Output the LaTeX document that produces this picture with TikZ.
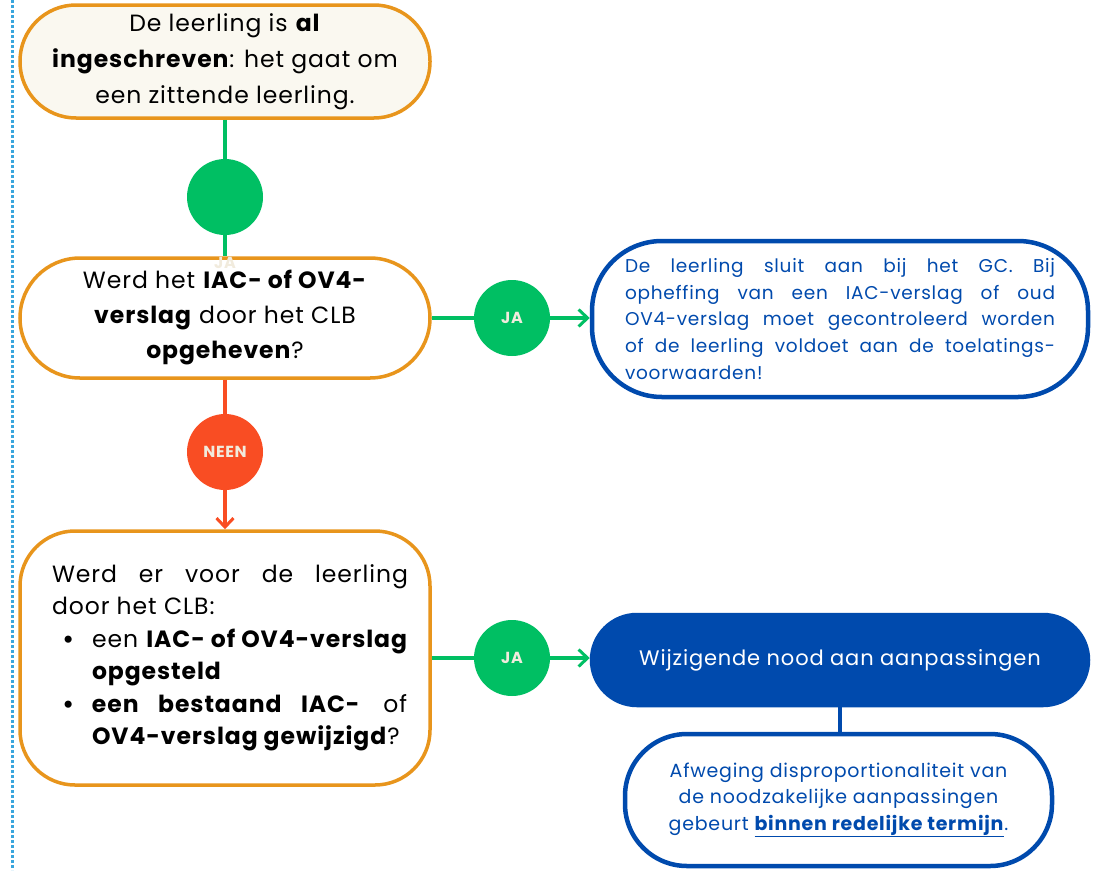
\documentclass[tikz,border=0pt]{standalone}
\usepackage{fontspec}
\setmainfont{Poppins}[LetterSpace=4]
\usetikzlibrary{arrows.meta}

\definecolor{vakoranje}{HTML}{E8951C}
\definecolor{vakcreme}{HTML}{FAF8F0}
\definecolor{vakgroen}{HTML}{00BF63}
\definecolor{vakrood}{HTML}{F94D23}
\definecolor{vakblauw}{HTML}{004AAD}
\definecolor{vaklijn}{HTML}{3AA6DD}
\definecolor{vakbleek}{HTML}{F1EBDD}

\begin{document}
\begin{tikzpicture}[x=1pt,y=-1pt,
    vraag/.style={draw=vakoranje,line width=3.5pt,fill=white,inner sep=0pt},
    uitkomst/.style={draw=vakblauw,line width=4.5pt,fill=white,inner sep=0pt,text=vakblauw},
    keuze/.style={circle,minimum size=76pt,inner sep=0pt,text=vakbleek,font=\fontsize{16}{16}\selectfont\bfseries},
    verbinding/.style={line width=3.5pt},
    >={Straight Barb[length=9pt,width=17pt,line width=3pt]}]
  \useasboundingbox (0,0) rectangle (1102,870);
  \draw[vaklijn,line width=3pt,dash pattern=on 2.5pt off 2.5pt] (12,0) -- (12,870);

  % vragen links
  \node[vraag,fill=vakcreme,rounded corners=56pt,minimum width=410pt,minimum height=113pt,
    align=center,font=\fontsize{23.5}{36}\selectfont] (ingeschreven) at (225,61.5)
    {De leerling is \textbf{al}\\\textbf{ingeschreven}: het gaat om\\een zittende leerling.};
  \node[vraag,rounded corners=60pt,minimum width=410pt,minimum height=120pt,
    align=center,font=\fontsize{23.5}{35}\selectfont] (opgeheven) at (225,318)
    {Werd het \textbf{IAC- of OV4-}\\\textbf{verslag} door het CLB\\\textbf{opgeheven}?};
  \node[text=vakbleek,font=\fontsize{16}{16}\selectfont\bfseries] (jableek) at (225,263) {JA};
  \node[vraag,rounded corners=55pt,minimum width=410pt,minimum height=254pt] (opgesteld) at (225,658)
    {\hspace*{10pt}\begin{minipage}{356pt}\fontsize{23.5}{32.5}\selectfont
     Werd er voor de leerling\linebreak door het CLB:\par
     {\leftskip=40pt
     \noindent\llap{\textbf{\textbullet}\hspace{17pt}}een \textbf{IAC- of OV4-verslag}\linebreak \textbf{opgesteld}\par
     \noindent\llap{\textbf{\textbullet}\hspace{17pt}}\textbf{een bestaand IAC-} of\linebreak \textbf{OV4-verslag gewijzigd}?\par}
     \end{minipage}};

  % keuzes
  \node[keuze,fill=vakgroen] (ja1) at (225,197) {};
  \node[keuze,fill=vakgroen] (ja2) at (512,318) {JA};
  \node[keuze,fill=vakrood] (neen) at (225,452) {NEEN};
  \node[keuze,fill=vakgroen] (ja3) at (512,658) {JA};

  % uitkomsten rechts
  \node[uitkomst,rounded corners=70pt,minimum width=496pt,minimum height=156pt,
    text width=430pt,align=justify,font=\fontsize{18.5}{26.7}\selectfont] (gc) at (840,319)
    {De leerling sluit aan bij het GC. Bij\linebreak opheffing van een IAC-verslag of oud\linebreak
     OV4-verslag moet gecontroleerd worden\linebreak of de leerling voldoet aan de toelatings-\linebreak voorwaarden!};
  \node[uitkomst,fill=vakblauw,text=white,rounded corners=45pt,minimum width=496pt,minimum height=90pt,
    font=\fontsize{21}{24}\selectfont] (nood) at (840,660) {Wijzigende nood aan aanpassingen};
  \node[uitkomst,rounded corners=62pt,minimum width=427pt,minimum height=132pt,
    align=center,font=\fontsize{19}{26.5}\selectfont] (termijn) at (838.5,800)
    {Afweging disproportionaliteit van\\de noodzakelijke aanpassingen\\
     gebeurt \underline{\textbf{binnen redelijke termijn}}.};

  % verbindingen
  \draw[verbinding,vakgroen] (ingeschreven.south) -- (ja1);
  \draw[verbinding,vakgroen] (ja1) -- (opgeheven.north);
  \draw[verbinding,vakgroen] (opgeheven.east) -- (ja2);
  \draw[verbinding,vakgroen,->] (ja2.east) -- (ja2.east -| gc.west);
  \draw[verbinding,vakrood] (opgeheven.south) -- (neen);
  \draw[verbinding,vakrood,->] (neen.south) -- (opgesteld.north);
  \draw[verbinding,vakgroen] (opgesteld.east) -- (ja3);
  \draw[verbinding,vakgroen,->] (ja3.east) -- (ja3.east -| nood.west);
  \draw[verbinding,vakblauw] (nood.south) -- (nood.south |- termijn.north);
\end{tikzpicture}
\end{document}
